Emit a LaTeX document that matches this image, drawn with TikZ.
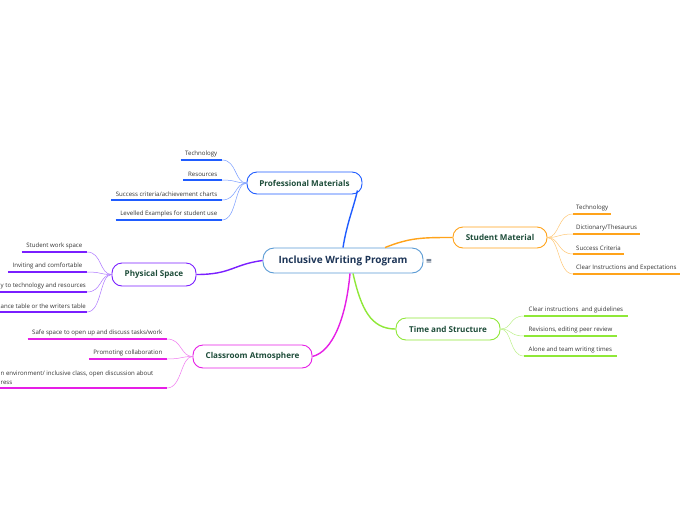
\documentclass[tikz,border=0pt]{standalone}
\usepackage{fontspec}
\setmainfont{Open Sans}
\newfontfamily\symfont{DejaVu Sans}
\usetikzlibrary{calc}
\definecolor{cblue}{HTML}{1F5CFF}
\definecolor{cpurple}{HTML}{7A1FFF}
\definecolor{cmag}{HTML}{E61EE6}
\definecolor{corange}{HTML}{FFA31A}
\definecolor{cgreen}{HTML}{8FE838}
\definecolor{croot}{HTML}{5A9BD5}
\definecolor{ctopic}{HTML}{1E4D3A}
\definecolor{croottext}{HTML}{1D3557}
\tikzset{
  topic/.style={draw, rounded corners=10pt, line width=0.9pt, fill=white,
    minimum height=22pt, inner sep=0pt, text=ctopic,
    font=\bfseries\fontsize{8.1}{9}\selectfont},
  rootbox/.style={draw=croot, rounded corners=11pt, line width=0.9pt, fill=white,
    minimum height=25pt, minimum width=160pt, inner sep=0pt, text=croottext,
    font=\bfseries\fontsize{10}{11}\selectfont},
  leaf/.style={inner xsep=4.5pt, inner ysep=3pt, text=black!80,
    font=\fontsize{6.1}{9.5}\selectfont},
  lleaf/.style={leaf, anchor=south east},
  rleaf/.style={leaf, anchor=south west},
  uline/.style={line width=1.1pt},
  twig/.style={line width=0.5pt},
  branch/.style={line width=1.4pt},
}
\begin{document}
\begin{tikzpicture}[x=1pt,y=-1pt]
\fill[white] (0,0) rectangle (696,520);
\useasboundingbox (0,0) rectangle (696,520);
\clip (0,0) rectangle (696,520);

% topic nodes
\node[rootbox] (root) at (343,260.5) {Inclusive Writing Program};
\node[text=croottext, font=\symfont\fontsize{7.5}{8}\selectfont] (menu) at (429,261) {≡};
\node[topic, draw=cblue, minimum width=115pt] (pm) at (304.5,183) {Professional Materials};
\node[topic, draw=cpurple, minimum width=84pt, minimum height=23pt] (ps) at (154,274.5) {Physical Space};
\node[topic, draw=cmag, minimum width=119pt, minimum height=23pt] (ca) at (252.5,356.5) {Classroom Atmosphere};
\node[topic, draw=corange, minimum width=94pt, minimum height=21pt] (sm) at (500,237.5) {Student Material};
\node[topic, draw=cgreen, minimum width=104pt] (ts) at (448,329) {Time and Structure};

% main branches
\draw[branch, cblue] ($(root.north)+(0,0)$) .. controls +(4,-25) and +(-4,18) .. ($(pm.south east)+(-5,-4)$);
\draw[branch, corange] ($(root.north)+(42,0)$) .. controls +(25,-10) and +(-30,0) .. (sm.west);
\draw[branch, cpurple] (root.west) .. controls +(-30,4) and +(35,0) .. (ps.east);
\draw[branch, cmag] ($(root.south)+(7,0)$) .. controls +(-4,45) and +(20,-5) .. (ca.east);
\draw[branch, cgreen] ($(root.south)+(10,0)$) .. controls +(8,35) and +(-25,0) .. (ts.west);

% Professional Materials children
\node[lleaf] (pm1) at (222,160) {Technology};
\node[lleaf] (pm2) at (222,180) {Resources};
\node[lleaf] (pm3) at (222,200) {Success criteria/achievement charts};
\node[lleaf] (pm4) at (222,220) {Levelled Examples for student use};
\foreach \n in {pm1,pm2,pm3,pm4}{
  \draw[uline, cblue] (\n.south west) -- (\n.south east);
  \draw[twig, cblue!60] (\n.south east) .. controls +(15,0) and +(-12,0) .. (pm.west);
}

% Physical Space children
\node[lleaf] (ps1) at (87,252) {Student work space};
\node[lleaf] (ps2) at (87,272) {Inviting and comfortable};
\node[leaf, anchor=south west, inner xsep=0pt] (ps3) at (0.5,292) {y to technology and resources};
\node[leaf, anchor=south west, inner xsep=0pt] (ps4) at (0.5,312) {ance table or the writers table};
\coordinate (ps3r) at (87,292);
\coordinate (ps4r) at (87,312);
\foreach \n in {ps1,ps2}{
  \draw[uline, cpurple] (\n.south west) -- (\n.south east);
  \draw[twig, cpurple!60] (\n.south east) .. controls +(15,0) and +(-12,0) .. (ps.west);
}
\draw[uline, cpurple] (0,292) -- (ps3r);
\draw[uline, cpurple] (0,312) -- (ps4r);
\foreach \c in {ps3r,ps4r}{
  \draw[twig, cpurple!60] (\c) .. controls +(15,0) and +(-12,0) .. (ps.west);
}

% Classroom Atmosphere children
\node[lleaf] (ca1) at (167,339) {Safe space to open up and discuss tasks/work};
\node[lleaf] (ca2) at (167,359) {Promoting collaboration};
\node[leaf, anchor=south west, align=left, inner xsep=0pt] (ca3) at (0.5,388) {n environment/ inclusive class, open discussion about\\ress};
\coordinate (ca3r) at (167,388);
\foreach \n in {ca1,ca2}{
  \draw[uline, cmag] (\n.south west) -- (\n.south east);
  \draw[twig, cmag!60] (\n.south east) .. controls +(15,0) and +(-12,0) .. (ca.west);
}
\draw[uline, cmag] (0,388) -- (ca3r);
\draw[twig, cmag!60] (ca3r) .. controls +(15,0) and +(-12,0) .. (ca.west);

% Student Material children
\node[rleaf, inner xsep=3pt] (sm1) at (573,214) {Technology};
\node[rleaf, inner xsep=3pt] (sm2) at (573,234) {Dictionary/Thesaurus};
\node[rleaf, inner xsep=3pt] (sm3) at (573,254) {Success Criteria};
\node[rleaf, inner xsep=3pt] (sm4) at (573,274) {Clear Instructions and Expectations};
\foreach \n in {sm1,sm2,sm3,sm4}{
  \draw[uline, corange] (\n.south west) -- (\n.south east);
  \draw[twig, corange!60] (sm.east) .. controls +(12,0) and +(-15,0) .. (\n.south west);
}

% Time and Structure children
\node[rleaf] (ts1) at (524,316) {Clear instructions\ \ and guidelines};
\node[rleaf] (ts2) at (524,336) {Revisions, editing peer review};
\node[rleaf] (ts3) at (524,356) {Alone and team writing times};
\foreach \n in {ts1,ts2,ts3}{
  \draw[uline, cgreen] (\n.south west) -- (\n.south east);
  \draw[twig, cgreen!60] (ts.east) .. controls +(12,0) and +(-15,0) .. (\n.south west);
}
\end{tikzpicture}
\end{document}
